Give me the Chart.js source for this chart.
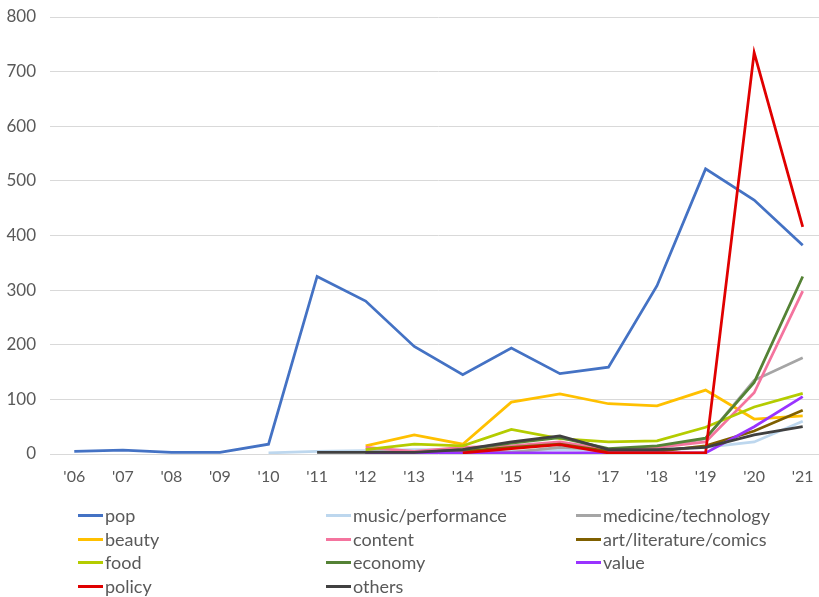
<!DOCTYPE html>
<html>
<head>
<meta charset="utf-8">
<script src="https://cdn.jsdelivr.net/npm/chart.js@4"></script>
<style>
  html, body { margin: 0; padding: 0; background: #fff; width: 819px; height: 597px; overflow: hidden; }
  #wrap { position: absolute; left: 0; top: 0; width: 827px; height: 495px; }
  #legend { position: absolute; left: 0; top: 0; width: 819px; height: 597px; pointer-events: none; }
  .li { position: absolute; font-family: Lato, "Liberation Sans", sans-serif; font-size: 18px; color: #595959; line-height: 20px; white-space: nowrap; }
  .sw { position: absolute; height: 3px; width: 25px; }
</style>
</head>
<body>
<div id="wrap"><canvas id="c" width="827" height="495"></canvas></div>
<div id="legend"></div>
<script>
const years = ["'06","'07","'08","'09","'10","'11","'12","'13","'14","'15","'16","'17","'18","'19","'20","'21"];
const seriesNames = ["pop","music/performance","medicine/technology","beauty","content","art/literature/comics","food","economy","value","policy","others"];
const pop      = [5, 7, 3, 3, 18, 325, 280, 197, 145, 194, 147, 159, 308, 522, 465, 382];
const music    = [null, null, null, null, 2, 5, 6, 8, 8, 5, 8, 6, 6, 12, 22, 60];
const medicine = [null, null, null, null, null, null, 5, 3, 3, 3, 12, 8, 12, 28, 135, 176];
const beauty   = [null, null, null, null, null, null, 15, 35, 18, 95, 110, 92, 88, 117, 64, 70];
const content  = [null, null, null, null, null, null, 12, 5, 12, 15, 22, 8, 12, 22, 112, 298];
const art      = [null, null, null, null, null, null, 3, 2, 5, 12, 18, 5, 5, 15, 42, 80];
const food     = [null, null, null, null, null, null, 8, 18, 15, 45, 28, 22, 24, 49, 86, 111];
const economy  = [null, null, null, null, null, null, 2, 2, 8, 20, 30, 10, 15, 29, 131, 325];
const value    = [null, null, null, null, null, null, 2, 2, 2, 2, 2, 2, 2, 2, 50, 105];
const policy   = [null, null, null, null, null, null, null, null, 2, 10, 17, 2, 2, 2, 735, 416];
const others   = [null, null, null, null, null, 3, 3, 3, 8, 22, 33, 8, 8, 12, 35, 50];
const yTicks   = [0, 100, 200, 300, 400, 500, 600, 700, 800];

const seriesData = [pop, music, medicine, beauty, content, art, food, economy, value, policy, others];
const colors = ["#4472C4", "#BDD7EE", "#A5A5A5", "#FFC000", "#F4749E", "#7F6000", "#B4CC00", "#548235", "#9933FF", "#E00000", "#404040"];

const n = seriesNames.length;
const datasets = seriesNames.map((name, i) => ({
  label: name,
  data: seriesData[i],
  borderColor: colors[i],
  backgroundColor: colors[i],
  borderWidth: 2.75,
  pointRadius: 0,
  pointHoverRadius: 0,
  tension: 0,
  fill: false,
  spanGaps: false,
  order: n - i
}));

new Chart(document.getElementById('c'), {
  type: 'line',
  data: { labels: years, datasets },
  options: {
    responsive: false,
    animation: false,
    devicePixelRatio: 1,
    layout: { padding: { top: 17, left: 0, right: 0, bottom: 0 } },
    plugins: { legend: { display: false }, tooltip: { enabled: false } },
    scales: {
      x: {
        offset: true,
        grid: { display: false, drawTicks: false },
        border: { display: false },
        ticks: { color: '#595959', font: { family: 'Lato', size: 16 }, padding: 13, maxRotation: 0, autoSkip: false },
        afterFit: (s) => { s.height = 41; s.paddingLeft = 0; s.paddingRight = 0; }
      },
      y: {
        min: 0, max: 800,
        afterBuildTicks: (s) => { s.ticks = yTicks.map(v => ({ value: v })); },
        grid: { color: '#D9D9D9', lineWidth: 1, drawTicks: false },
        border: { display: false },
        ticks: { color: '#595959', font: { family: 'Lato', size: 17 }, padding: 14 },
        afterFit: (s) => { s.width = 50; s.paddingTop = 0; s.paddingBottom = 0; }
      }
    }
  }
});

// legend (3 columns, like the reference)
const colLine = [78, 326, 576];
const colText = [105, 353, 603];
const rowY = [515, 539, 562, 586];
const leg = document.getElementById('legend');
seriesNames.forEach((name, i) => {
  const col = i % 3, row = Math.floor(i / 3);
  const sw = document.createElement('div');
  sw.className = 'sw';
  sw.style.left = colLine[col] + 'px';
  sw.style.top = (rowY[row] - 1.5) + 'px';
  sw.style.background = colors[i];
  leg.appendChild(sw);
  const t = document.createElement('div');
  t.className = 'li';
  t.textContent = name;
  t.style.left = colText[col] + 'px';
  t.style.top = (rowY[row] - 10) + 'px';
  leg.appendChild(t);
});
</script>
</body>
</html>
